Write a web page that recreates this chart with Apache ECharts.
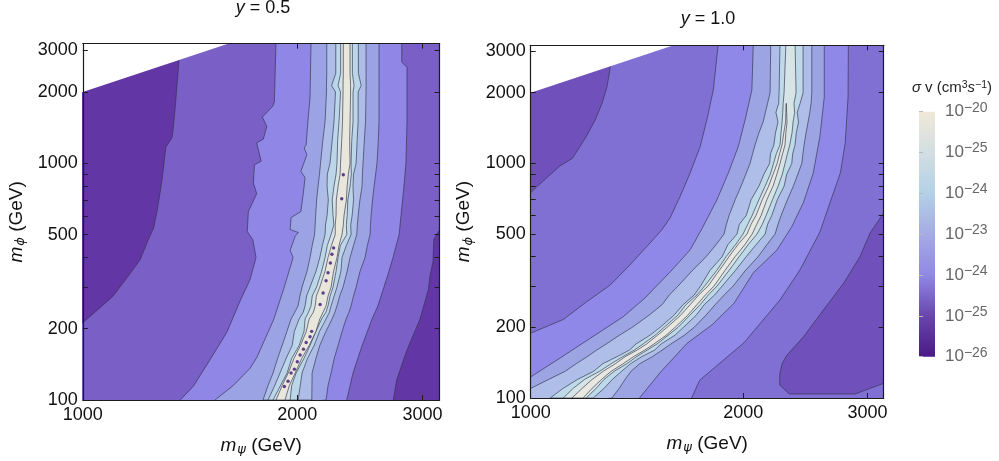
<!DOCTYPE html>
<html><head><meta charset="utf-8">
<style>html,body{margin:0;padding:0;background:#fff}#c{width:999px;height:461px}</style>
<script src="https://cdn.jsdelivr.net/npm/echarts@6/dist/echarts.min.js"></script></head>
<body><div id="c"></div>
<script>
const FONT='"Liberation Sans",Arial,sans-serif';
const titles=['0.5','1.0'];
const colorbarLabels=['\u221226','\u221225','\u221224','\u221223','\u221224','\u221225','\u221220'];
const phiTicks=[100,200,300,400,500,600,700,800,900,1000,2000,3000];
const phiLabels=[100,200,500,1000,2000,3000];
const psiTicks=[1000,2000,3000];
const psiLabels=[1000,2000,3000];

/* y = 0.5 : contours as (m_psi, m_phi) */
const a_dark1=[[1368,3000],[1365,2740],[1351,1850],[1339,1380],[1334,1280],[1308,1170],[1292,850],[1274,650],[1258,535],[1236,475],[1203,390],[1148,322],[1102,274],[1040,235],[1000,212],[950,195],[950,3300],[1368,3300]];
const a_dark2=[[2715,90],[2729,100],[2760,122],[2851,162],[2976,220],[3057,293],[3073,333],[3103,385],[3112,477],[3165,520],[3300,560],[3400,560],[3400,90]];
const a_L2=[[1868,3300],[1858,1820],[1848,1740],[1787,1567],[1813,1431],[1793,1265],[1755,1220],[1780,1020],[1742,985],[1736,825],[1755,745],[1708,625],[1702,515],[1733,475],[1751,400],[1717,322],[1663,262],[1593,193],[1509,148],[1429,114],[1370,100],[1340,90]];
const a_R2=[[2805,3300],[2805,2680],[2853,2540],[2853,1500],[2843,1000],[2825,800],[2798,600],[2781,500],[2727,400],[2691,350],[2648,300],[2597,250],[2548,220],[2468,170],[2396,130],[2348,100],[2330,90]];
const a_L3=[[2092,3300],[2085,1900],[2070,1480],[2059,1195],[2046,1160],[2064,1087],[2024,925],[2052,870],[2041,755],[2024,625],[1961,590],[1955,525],[2008,510],[1987,492],[1955,428],[1974,400],[1913,292],[1853,218],[1755,151],[1717,136],[1626,115],[1533,100],[1500,90]];
const a_phi=[3300,2400,2130,2000,1500,1250,1000,900,800,700,600,550,500,450,400,350,300,275,250,235,220,195,170,150,130,115,100];
const a_R3=[2606,2606,2606,2606,2606,2600,2589,2578,2565,2552,2540,2535,2532,2510,2491,2451,2420,2400,2381,2365,2343,2313,2283,2255,2232,2210,2196];
const a_L4=[2201,2201,2199,2199,2189,2173,2157,2150,2140,2130,2123,2120,2116,2100,2085,2065,2032,2018,2006,1985,1961,1935,1905,1878,1850,1820,1791];
const a_R4=[2499,2499,2499,2499,2495,2485,2475,2470,2467,2450,2436,2430,2425,2400,2373,2351,2320,2295,2275,2260,2239,2195,2152,2125,2099,2098,2097];
const a_L5=[2266,2266,2236,2264,2253,2240,2224,2205,2203,2212,2203,2192,2189,2170,2152,2126,2085,2062,2052,2040,2013,1982,1968,1930,1892,1860,1820];
const a_R5=[2438,2438,2460,2436,2436,2428,2420,2400,2396,2400,2389,2378,2381,2345,2312,2304,2275,2254,2232,2220,2196,2150,2113,2068,2032,2020,2006];
const a_L6=[2302,2302,2283,2301,2290,2280,2275,2268,2253,2240,2246,2252,2232,2205,2189,2165,2130,2100,2092,2075,2052,2045,2013,1965,1936,1895,1850];
const a_R6=[2391,2391,2404,2396,2396,2386,2381,2383,2373,2356,2351,2345,2348,2300,2283,2268,2246,2225,2210,2195,2165,2125,2085,2045,1993,1965,1955];
const a_L7=[2322,2322,2320,2320,2316,2310,2301,2298,2283,2270,2268,2262,2262,2235,2210,2189,2152,2128,2120,2108,2079,2060,2022,1980,1943,1905,1868];
const a_R7=[2373,2373,2377,2377,2373,2370,2373,2360,2351,2345,2327,2322,2312,2290,2275,2250,2232,2210,2196,2175,2152,2125,2079,2030,1987,1950,1923];
const a_dots=[[2096,195],[2085,185],[2059,175],[2041,164],[2019,155],[2001,145],[1982,135],[1961,130],[1942,120],[1919,114],[2250,439],[2238,413],[2227,379],[2210,345],[2196,319],[2175,283],[2154,253],[2322,894],[2310,708]];

/* y = 1.0 */
const b_dark1=[[1305,2900],[1298,2625],[1283,2130],[1262,1802],[1234,1530],[1200,1308],[1146,1051],[1125,1017],[1100,975],[1020,795],[1000,750],[950,700],[950,2900]];
const b_dark2=[[3340,770],[3162,615],[3025,505],[2926,400],[2774,308],[2597,237],[2433,182],[2305,152],[2270,140],[2253,127],[2253,113.5],[2325,104],[2880,104],[3162,115.5],[3300,121],[3400,121],[3400,770]];
const b_L2=[[1845,3300],[1814,2054],[1776,1530],[1738,1180],[1682,910],[1627,720],[1575,585],[1533,520],[1460,442],[1382,369],[1296,303],[1200,257],[1112,216],[1000,189],[950,178],[950,90]];
const b_R2=[[2818,3300],[2815,1920],[2789,1220],[2745,910],[2654,680],[2568,510],[2407,352],[2255,262],[2005,172],[1854,141],[1735,119],[1690,100],[1670,90]];
const b_L3=[[2067,3300],[2057,2054],[2012,1530],[1968,1180],[1905,910],[1835,698],[1754,537],[1682,428],[1585,351],[1452,267],[1352,222],[1212,179],[1089,145],[1000,123],[950,115],[950,90]];
const b_R3=[[2605,3300],[2605,1920],[2568,1300],[2513,910],[2433,680],[2343,537],[2232,427],[2067,342],[1940,253],[1806,205],[1665,171],[1524,128],[1426,100],[1400,90]];
const b_phi=[3300,2000,1800,1650,1500,1350,1200,1100,1000,900,800,700,600,550,500,450,400,350,300,275,250,225,200,185,170,160,150,140,130,120,110,100];
const b_L4=[2188,2183,2165,2150,2134,2105,2079,2062,2045,2017,1986,1948,1910,1893,1879,1830,1772,1695,1617,1572,1535,1470,1392,1335,1280,1240,1202,1160,1119,1060,1001,950];
const b_R4=[2501,2501,2495,2485,2471,2455,2439,2430,2421,2390,2355,2310,2263,2240,2219,2160,2099,2015,1935,1880,1825,1770,1704,1650,1580,1535,1487,1427,1387,1360,1335,1303];
const b_L5=[2255,2248,2245,2225,2240,2222,2210,2186,2180,2140,2105,2052,2020,1975,1960,1902,1867,1795,1740,1705,1644,1595,1525,1475,1410,1380,1325,1265,1228,1165,1112,1066];
const b_R5=[2431,2431,2407,2385,2395,2378,2368,2350,2343,2305,2285,2235,2195,2165,2148,2085,2019,1950,1867,1822,1761,1715,1645,1600,1530,1498,1436,1385,1345,1305,1271,1226];
const b_L6=[2299,2285,2278,2275,2270,2262,2255,2228,2208,2185,2148,2105,2059,2030,1999,1950,1891,1835,1763,1720,1660,1615,1545,1500,1443,1402,1350,1300,1252,1192,1149,1112];
const b_R6=[2368,2376,2360,2365,2353,2345,2328,2310,2292,2272,2241,2200,2155,2128,2092,2032,1973,1910,1836,1785,1738,1680,1617,1565,1510,1462,1412,1368,1313,1270,1238,1198];
const b_phi7=[1800,1650,1500,1350,1200,1100,1000,900,800,700,600,550,500,450,400,350,300,275,250,225,200,185,170,160,150,140,130,120,110,100];
const b_L7=[2300,2298,2296,2283,2270,2252,2234,2205,2173,2128,2085,2052,2025,1965,1909,1850,1783,1730,1682,1630,1560,1512,1460,1415,1361,1318,1267,1222,1183,1144];
const b_R7=[2302,2304,2307,2298,2292,2274,2255,2232,2204,2160,2120,2090,2059,2010,1947,1885,1818,1768,1720,1668,1601,1555,1495,1450,1398,1352,1300,1260,1222,1186];

const colorbarStops=['#4A1A87','#6846AE','#9188E6','#A5ABE3','#B4D0E6','#D2DEE2','#F0E8D8'];
const palA=['#7A5FC6','#6336A5','#8F86E6','#9CA3E4','#AEBDE8','#BAD6E8','#D5E2E5','#E9E7DC'];
const palB=['#8070D4','#7050BB','#9088E8','#9CA4E4','#AEBEE8','#BEDAE8','#D6E4E6','#E9E8E0'];

const zip=(rows,xs)=>xs.map((x,i)=>[x,rows[i]]);
const band=(l,r)=>l.concat(r.slice().reverse());
const WIDE=[[900,85],[900,3500],[3500,3500],[3500,85]];
const NOGO=[[900,1800],[1750,3500],[900,3500]];
const polysA=[
 {p:WIDE,c:palA[0]},{p:a_dark1,c:palA[1]},{p:a_dark2,c:palA[1]},
 {p:band(a_L2,a_R2),c:palA[2]},
 {p:band(a_L3,zip(a_phi,a_R3)),c:palA[3]},
 {p:band(zip(a_phi,a_L4),zip(a_phi,a_R4)),c:palA[4]},
 {p:band(zip(a_phi,a_L5),zip(a_phi,a_R5)),c:palA[5]},
 {p:band(zip(a_phi,a_L6),zip(a_phi,a_R6)),c:palA[6]},
 {p:band(zip(a_phi,a_L7),zip(a_phi,a_R7)),c:palA[7]},
];
const polysB=[
 {p:WIDE,c:palB[0]},{p:b_dark1,c:palB[1]},{p:b_dark2,c:palB[1]},
 {p:band(b_L2,b_R2),c:palB[2]},
 {p:band(b_L3,b_R3),c:palB[3]},
 {p:band(zip(b_phi,b_L4).concat([[950,90]]),zip(b_phi,b_R4)),c:palB[4]},
 {p:band(zip(b_phi,b_L5),zip(b_phi,b_R5)),c:palB[5]},
 {p:band(zip(b_phi,b_L6),zip(b_phi,b_R6)),c:palB[6]},
 {p:band(zip(b_phi7,b_L7),zip(b_phi7,b_R7)),c:palB[7]},
];
function polySeries(polys,ax){
  return {type:'custom',xAxisIndex:ax,yAxisIndex:ax,coordinateSystem:'cartesian2d',clip:true,silent:true,z:2,
    data:polys.map(o=>o.p[0]),
    renderItem(params,api){
      const o=polys[params.dataIndex];
      return {type:'polygon',shape:{points:o.p.map(v=>api.coord(v))},
        style:{fill:o.c,stroke:'rgba(50,50,75,0.72)',lineWidth:0.9}};
    }};
}
function whiteSeries(ax){
  return {type:'custom',xAxisIndex:ax,yAxisIndex:ax,coordinateSystem:'cartesian2d',clip:true,silent:true,z:3,
    data:[NOGO[0]],
    renderItem(params,api){return {type:'polygon',shape:{points:NOGO.map(v=>api.coord(v))},style:{fill:'#fff',stroke:null}};}};
}
const axisColor='#1c1c1c';
const nameRich={i:{fontStyle:'italic',fontWeight:'normal',fontSize:19,fontFamily:FONT,color:'#111'},
  sub:{fontStyle:'italic',fontWeight:'normal',fontSize:13,fontFamily:'"DejaVu Sans",'+FONT,padding:[8,0,0,1],color:'#111'},
  n:{fontSize:19,fontWeight:'normal',fontFamily:FONT,color:'#111'}};
function xAx(g,max,top){
  return {type:'log',logBase:10,gridIndex:g,min:1000,max,position:top?'top':'bottom',z:6,
    splitLine:{show:false},minorTick:{show:false},
    axisLine:{show:true,lineStyle:{color:axisColor,width:1.2},onZero:false},
    axisTick:{show:true,inside:true,length:5,customValues:psiTicks,lineStyle:{color:axisColor,width:1}},
    axisLabel:top?{show:false}:{show:true,customValues:psiLabels,fontSize:18,fontFamily:FONT,color:'#111',margin:6,hideOverlap:false,showMinLabel:true,showMaxLabel:true,formatter:v=>String(Math.round(v))},
    name:top?'':'{i|m}{sub|\u03c8}{n| (GeV)}',nameLocation:'middle',nameGap:35,
    nameTextStyle:{rich:nameRich}};
}
function yAx(g,max,right){
  return {type:'log',logBase:10,gridIndex:g,min:100,max,position:right?'right':'left',z:6,
    splitLine:{show:false},minorTick:{show:false},
    axisLine:{show:true,lineStyle:{color:axisColor,width:1.2},onZero:false},
    axisTick:{show:true,inside:true,length:5,customValues:phiTicks,lineStyle:{color:axisColor,width:1}},
    axisLabel:right?{show:false}:{show:true,customValues:phiLabels,fontSize:18,fontFamily:FONT,color:'#111',margin:5,hideOverlap:false,showMinLabel:true,showMaxLabel:true,formatter:v=>String(Math.round(v))},
    name:right?'':'{i|m}{sub|\u03d5}{n| (GeV)}',nameLocation:'middle',nameGap:56,
    nameTextStyle:{rich:nameRich}};
}
const titleRich={i:{fontStyle:'italic',fontWeight:'normal',fontSize:18,fontFamily:FONT,color:'#111'},n:{fontSize:18,fontWeight:'normal',fontFamily:FONT,color:'#111'}};
const cbRich={i:{fontStyle:'italic',fontWeight:'normal',fontSize:15,fontFamily:FONT,color:'#222'},
  n:{fontSize:15,fontWeight:'normal',fontFamily:FONT,color:'#222'},
  s:{fontSize:10.5,fontWeight:'normal',fontFamily:FONT,color:'#222',padding:[0,0,5,0]}};
const chart=echarts.init(document.getElementById('c'),null,{renderer:'canvas'});
chart.setOption({
  animation:false,backgroundColor:'#fff',
  title:[
    {text:'{i|y}{n| = '+titles[0]+'}',left:258,top:-6,textAlign:'center',textStyle:{rich:titleRich}},
    {text:'{i|y}{n| = '+titles[1]+'}',left:703,top:5,textAlign:'center',textStyle:{rich:titleRich}},
    {text:'{i|\u03c3}{n| v (cm}{s|3}{i|s}{s|\u22121}{n|)}',left:947,top:75,textAlign:'center',textStyle:{rich:cbRich}}
  ],
  grid:[
    {left:82.8,top:43.7,width:356.8,height:356.8},
    {left:530.7,top:45.3,width:353,height:352.7},
    {left:919,top:111.7,width:16,height:245}
  ],
  xAxis:[xAx(0,3170,false),xAx(0,3170,true),xAx(1,3162,false),xAx(1,3162,true),
    {type:'value',gridIndex:2,min:0,max:1,show:false}],
  yAxis:[yAx(0,3200,false),yAx(0,3200,true),yAx(1,3186,false),yAx(1,3186,true),
    {type:'value',gridIndex:2,min:0,max:6,interval:1,position:'right',z:6,splitLine:{show:false},
     axisLine:{show:false},axisTick:{show:true,length:4,lineStyle:{color:'#bbb'}},
     axisLabel:{margin:10,formatter:v=>'{b|10}{s|'+colorbarLabels[v]+'}',
       rich:{b:{fontSize:17,fontFamily:FONT,color:'#666'},s:{fontSize:14,fontFamily:FONT,color:'#666',padding:[0,0,8,0]}}}}],
  series:[
    polySeries(polysA,0),
    {type:'scatter',xAxisIndex:0,yAxisIndex:0,data:a_dots,symbolSize:3.4,z:3,silent:true,itemStyle:{color:'#3a1478'}},
    whiteSeries(0),
    polySeries(polysB,2),
    whiteSeries(2),
    {type:'custom',xAxisIndex:4,yAxisIndex:4,coordinateSystem:'cartesian2d',silent:true,data:[[0,0]],
     renderItem(params,api){
       const a=api.coord([0,0]),b=api.coord([1,6]);
       return {type:'rect',shape:{x:a[0],y:b[1],width:b[0]-a[0],height:a[1]-b[1]},
        style:{fill:new echarts.graphic.LinearGradient(0,1,0,0,colorbarStops.map((c,i)=>({offset:i/(colorbarStops.length-1),color:c})))}};
     }}
  ]
});
</script></body></html>
